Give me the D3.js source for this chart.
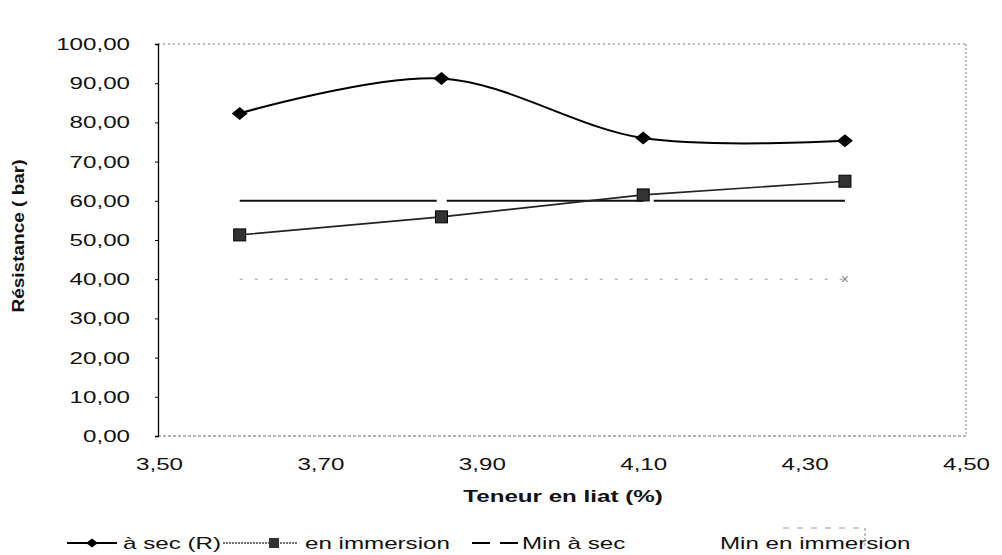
<!DOCTYPE html>
<html><head><meta charset="utf-8">
<script src="https://cdn.jsdelivr.net/npm/d3@7"></script>
<style>
html,body{margin:0;padding:0;background:#fff;}
svg{display:block;}
text{font-family:"Liberation Sans",Arial,sans-serif;}
</style></head>
<body>
<svg id="chart" width="1002" height="555"></svg>
<script>
// ---- data ----
const teneur = [3.60, 3.85, 4.10, 4.35];
const aSec = [82.3, 91.2, 76.0, 75.3];
const enImmersion = [51.3, 55.9, 61.5, 65.0];
const minASec = [60, 60, 60, 60];
const minEnImmersion = [40, 40, 40, 40];
const yTicks = [0, 10, 20, 30, 40, 50, 60, 70, 80, 90, 100];
const xTicks = [3.50, 3.70, 3.90, 4.10, 4.30, 4.50];
const seriesNames = ["à sec  (R)", "en immersion", "Min à sec", "Min en immersion"];
const yTitle = "Résistance ( bar)";
const xTitle = "Teneur en liat (%)";

const STRETCH = 1.42;
const svg = d3.select("#chart");

const fr = d3.formatLocale({decimal: ",", thousands: " ", grouping: [3], currency: ["", " €"]});
const f2 = fr.format(".2f");

const x = d3.scaleLinear().domain([3.5, 4.5]).range([159, 966]);
const y = d3.scaleLinear().domain([0, 100]).range([436, 44]);

// plot frame (dotted top/right)
const g = svg.append("g");
g.append("line").attr("x1", 158).attr("x2", 966).attr("y1", y(100)).attr("y2", y(100))
  .attr("stroke", "#777").attr("stroke-width", 1).attr("stroke-dasharray", "2,3");
g.append("line").attr("x1", 966).attr("x2", 966).attr("y1", y(100)).attr("y2", y(0))
  .attr("stroke", "#777").attr("stroke-width", 1).attr("stroke-dasharray", "2,2");

// axes
const xAxis = d3.axisBottom(x).tickValues(xTicks).tickFormat(f2).tickSize(0).tickPadding(22);
const gx = svg.append("g").attr("transform", `translate(0,${y(0)})`).call(xAxis);
gx.select(".domain").attr("stroke", "#666").attr("stroke-dasharray", "3,2").attr("d", `M158,0H966`);
gx.selectAll("text").attr("font-size", 17).style("fill", "#111");

const yAxis = d3.axisLeft(y).tickValues(yTicks).tickFormat(f2).tickSize(3).tickPadding(25);
const gy = svg.append("g").attr("transform", `translate(158,0)`).call(yAxis);
gy.select(".domain").attr("stroke", "#000").attr("stroke-width", 1.3);
gy.selectAll(".tick line").attr("stroke", "#000");
gy.selectAll("text").attr("font-size", 17).style("fill", "#111");

// axis titles
svg.append("text").attr("class", "st").attr("x", 563).attr("y", 502)
  .attr("text-anchor", "middle").attr("font-size", 17).attr("font-weight", "bold").style("fill", "#111").text(xTitle);
svg.append("text").attr("transform", "translate(24,236) rotate(-90)")
  .attr("text-anchor", "middle").attr("font-size", 16).attr("font-weight", "bold").style("fill", "#111")
  .attr("textLength", 153).attr("lengthAdjust", "spacingAndGlyphs").text(yTitle);

// series data
const d1 = teneur.map((t, i) => [t, aSec[i]]);
const d2 = teneur.map((t, i) => [t, enImmersion[i]]);
const d3s = teneur.map((t, i) => [t, minASec[i]]);
const d4 = teneur.map((t, i) => [t, minEnImmersion[i]]);

const lineSmooth = d3.line().x(d => x(d[0])).y(d => y(d[1])).curve(d3.curveCatmullRom.alpha(0.5));
const lineStraight = d3.line().x(d => x(d[0])).y(d => y(d[1]));

// Min en immersion (faint dotted)
svg.append("path").attr("d", lineStraight(d4)).attr("fill", "none")
  .attr("stroke", "#999").attr("stroke-width", 1).attr("stroke-dasharray", "3,12");
svg.append("text").attr("x", x(teneur[3])).attr("y", y(minEnImmersion[3]) + 5)
  .attr("text-anchor", "middle").attr("font-size", 14).style("fill", "#888").text("×");

// Min à sec
svg.append("path").attr("d", lineStraight(d3s)).attr("fill", "none")
  .attr("stroke", "#111").attr("stroke-width", 2).attr("stroke-dasharray", "197,10");

// en immersion
svg.append("path").attr("d", lineStraight(d2)).attr("fill", "none")
  .attr("stroke", "#222").attr("stroke-width", 1.6);
svg.selectAll("rect.imm").data(d2).enter().append("rect").attr("class", "imm")
  .attr("x", d => x(d[0]) - 6).attr("y", d => y(d[1]) - 6).attr("width", 12).attr("height", 12)
  .attr("fill", "#333").attr("stroke", "#000").attr("stroke-width", 1);

// à sec
svg.append("path").attr("d", lineSmooth(d1)).attr("fill", "none")
  .attr("stroke", "#000").attr("stroke-width", 2);
const diamond = "M0,-6.5L8,0L0,6.5L-8,0Z";
svg.selectAll("path.dia").data(d1).enter().append("path").attr("class", "dia")
  .attr("d", diamond).attr("transform", d => `translate(${x(d[0])},${y(d[1])})`).attr("fill", "#000");

// legend
const lg = svg.append("g");
const ly = 543, lb = 549;
lg.append("line").attr("x1", 67).attr("x2", 117).attr("y1", ly).attr("y2", ly).attr("stroke", "#000").attr("stroke-width", 2);
lg.append("path").attr("d", "M0,-4.5L6,0L0,4.5L-6,0Z").attr("transform", `translate(92,${ly})`).attr("fill", "#000");
lg.append("text").attr("class", "st").attr("x", 123).attr("y", lb).attr("font-size", 17).style("fill", "#111").text(seriesNames[0]);

lg.append("line").attr("x1", 223).attr("x2", 298).attr("y1", ly).attr("y2", ly).attr("stroke", "#444").attr("stroke-width", 1.5).attr("stroke-dasharray", "2,1");
lg.append("rect").attr("x", 269).attr("y", ly - 5).attr("width", 10).attr("height", 10).attr("fill", "#333");
lg.append("text").attr("class", "st").attr("x", 305).attr("y", lb).attr("font-size", 17).style("fill", "#111").text(seriesNames[1]);

lg.append("line").attr("x1", 472).attr("x2", 518).attr("y1", ly).attr("y2", ly).attr("stroke", "#000").attr("stroke-width", 2).attr("stroke-dasharray", "18,10");
lg.append("text").attr("class", "st").attr("x", 522).attr("y", lb).attr("font-size", 17).style("fill", "#111").text(seriesNames[2]);

lg.append("text").attr("class", "st").attr("x", 720).attr("y", lb).attr("font-size", 17).style("fill", "#111").text(seriesNames[3]);
lg.append("line").attr("x1", 783).attr("x2", 860).attr("y1", 528).attr("y2", 528).attr("stroke", "#999").attr("stroke-width", 1).attr("stroke-dasharray", "6,8");
lg.append("line").attr("x1", 865).attr("x2", 865).attr("y1", 528).attr("y2", 547).attr("stroke", "#888").attr("stroke-width", 1).attr("stroke-dasharray", "3,2");

// horizontal stretch of text (the reference font is wide)
svg.selectAll(".tick text, text.st").each(function() {
  const w = this.getComputedTextLength();
  d3.select(this).attr("textLength", w * STRETCH).attr("lengthAdjust", "spacingAndGlyphs");
});
</script>
</body></html>
